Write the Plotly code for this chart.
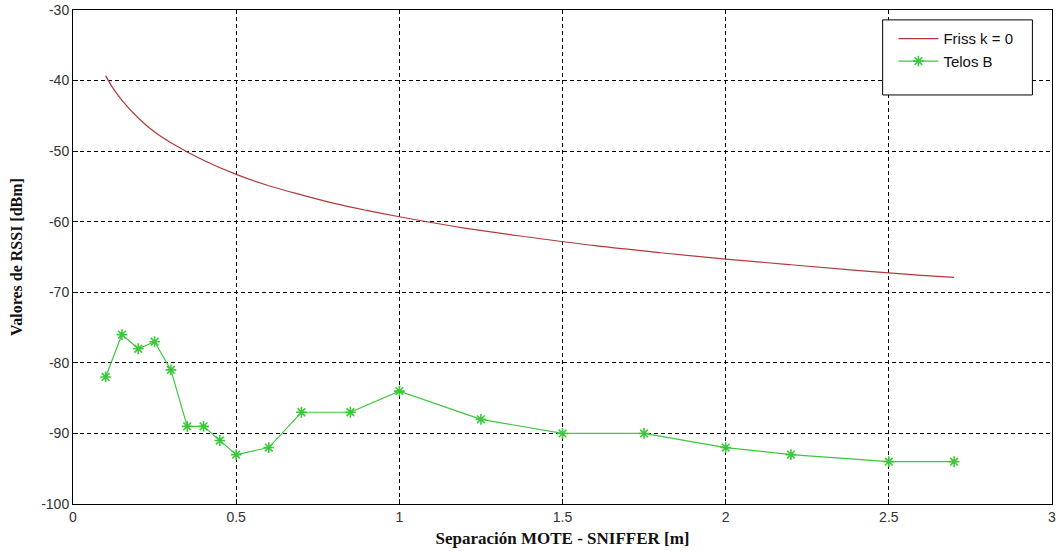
import plotly.graph_objects as go

# Friss k = 0 curve
friss_x = [0.1, 0.12, 0.15, 0.2, 0.25, 0.3, 0.4, 0.5, 0.6, 0.7, 0.8, 0.9, 1.0,
           1.2, 1.4, 1.6, 1.8, 2.0, 2.2, 2.4, 2.6, 2.7]
friss_y = [-39.3, -40.9, -42.8, -45.3, -47.3, -48.8, -51.3, -53.3, -54.9, -56.2,
           -57.4, -58.4, -59.3, -60.9, -62.2, -63.4, -64.4, -65.3, -66.1, -66.9,
           -67.6, -67.9]

# Telos B measurements
telos_x = [0.1, 0.15, 0.2, 0.25, 0.3, 0.35, 0.4, 0.45, 0.5, 0.6, 0.7, 0.85, 1.0,
           1.25, 1.5, 1.75, 2.0, 2.2, 2.5, 2.7]
telos_y = [-82, -76, -78, -77, -81, -89, -89, -91, -93, -92, -87, -87, -84,
           -88, -90, -90, -92, -93, -94, -94]

x_ticks = [0, 0.5, 1, 1.5, 2, 2.5, 3]
x_tick_labels = ["0", "0.5", "1", "1.5", "2", "2.5", "3"]
y_ticks = [-100, -90, -80, -70, -60, -50, -40, -30]
y_tick_labels = ["-100", "-90", "-80", "-70", "-60", "-50", "-40", "-30"]

fig = go.Figure()
fig.add_trace(go.Scatter(x=friss_x, y=friss_y, mode="lines", name="Friss k = 0",
                         line=dict(color="#b03a3a", width=1.2, shape="spline")))
fig.add_trace(go.Scatter(x=telos_x, y=telos_y, mode="lines+markers", name="Telos B",
                         line=dict(color="#3cc83c", width=1.2),
                         marker=dict(symbol="asterisk-open", size=9,
                                     line=dict(color="#22dd22", width=1.6))))

axis_common = dict(showline=True, linecolor="black", linewidth=1, mirror=True,
                   ticks="inside", ticklen=5, tickcolor="black",
                   showgrid=True, gridcolor="black", griddash="4px,3px", gridwidth=1,
                   zeroline=False, automargin=False,
                   tickfont=dict(family="Liberation Sans, Arial", size=14, color="#333"))

fig.update_xaxes(range=[0, 3], tickvals=x_ticks, ticktext=x_tick_labels,
                 title=dict(text="<b>Separación MOTE - SNIFFER [m]</b>",
                            font=dict(family="Liberation Serif, Times New Roman", size=17, color="#111"),
                            standoff=8),
                 **axis_common)
fig.update_yaxes(range=[-100, -30], tickvals=y_ticks, ticktext=y_tick_labels,
                 title=dict(text="<b>Valores de RSSI [dBm]</b>",
                            font=dict(family="Liberation Serif, Times New Roman", size=16, color="#111"),
                            standoff=14),
                 **axis_common)

fig.add_shape(type="rect", xref="paper", yref="paper", x0=0.827, x1=0.980,
              y0=0.828, y1=0.98, fillcolor="white", line=dict(color="black", width=1),
              layer="above")

fig.update_layout(
    width=1060, height=552,
    margin=dict(l=73, r=8, t=10, b=48),
    plot_bgcolor="white", paper_bgcolor="white",
    showlegend=True,
    legend=dict(x=0.838, y=0.975, xanchor="left", yanchor="top",
                bgcolor="rgba(0,0,0,0)", borderwidth=0,
                font=dict(family="Liberation Sans, Arial", size=15, color="#111"),
                tracegroupgap=0, itemwidth=40),
)

fig.write_html("out.html", config={"displayModeBar": False},
               post_script="document.body.style.margin='0';document.body.style.padding='0';")
